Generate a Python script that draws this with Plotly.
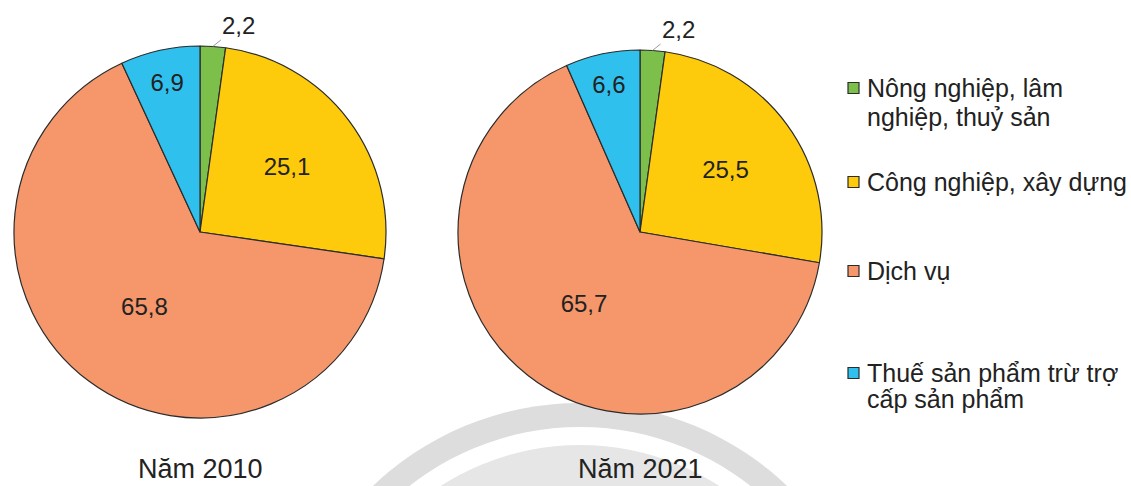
import math
import plotly.graph_objects as go

# GDP structure by sector (%)
sectors = [
    "Nông nghiệp, lâm nghiệp, thuỷ sản",
    "Công nghiệp, xây dựng",
    "Dịch vụ",
    "Thuế sản phẩm trừ trợ cấp sản phẩm",
]
legend_lines = [
    ["Nông nghiệp, lâm", "nghiệp, thuỷ sản"],
    ["Công nghiệp, xây dựng"],
    ["Dịch vụ"],
    ["Thuế sản phẩm trừ trợ", "cấp sản phẩm"],
]
years = ["Năm 2010", "Năm 2021"]
share_2010 = [2.2, 25.1, 65.8, 6.9]
share_2021 = [2.2, 25.5, 65.7, 6.6]

colors = ["#7cc04b", "#fdcb0b", "#f5976a", "#2fc0ee"]
edge = "#2b2b2b"
ink = "#222222"
FONT = "Liberation Sans, Arial, sans-serif"

W, H = 1131, 486


def fx(x):
    return x / W


def fy(y):
    return 1 - y / H


def fmt(v):
    return f"{v:.1f}".replace(".", ",")


# pie centre (px) and radius (px)
pies = [
    (years[0], share_2010, 200, 232, 186),
    (years[1], share_2021, 640, 232, 182),
]

fig = go.Figure()
annotations = []
shapes = []

# faint circular emblem in the background
emblem_cx, emblem_cy = 580, 703
for r, col in [(300, "#dddddd"), (276, "#ffffff"), (258, "#e6e6e6")]:
    shapes.append(dict(
        type="circle", xref="paper", yref="paper", layer="below",
        x0=fx(emblem_cx - r), x1=fx(emblem_cx + r),
        y0=fy(emblem_cy + r), y1=fy(emblem_cy - r),
        fillcolor=col, line=dict(width=0),
    ))

for name, values, cx, cy, r in pies:
    fig.add_trace(go.Pie(
        labels=sectors,
        values=values,
        text=[fmt(v) for v in values],
        textinfo="text",
        textposition=["none", "inside", "inside", "inside"],
        insidetextorientation="horizontal",
        textfont=dict(family=FONT, size=24, color=ink),
        marker=dict(colors=colors, line=dict(color=edge, width=1.2)),
        sort=False,
        direction="clockwise",
        rotation=0,
        showlegend=False,
        hoverinfo="label+value",
        domain=dict(x=[fx(cx - r), fx(cx + r)], y=[fy(cy + r), fy(cy - r)]),
    ))

    # small first slice: value placed above with a leader line
    total = sum(values)
    mid = values[0] / total * math.pi
    px_ = cx + r * math.sin(mid)
    py_ = cy - r * math.cos(mid)
    annotations.append(dict(
        x=fx(px_), y=fy(py_), xref="paper", yref="paper",
        text=fmt(values[0]), showarrow=True, arrowhead=0,
        arrowwidth=1, arrowcolor="#9a9a9a",
        ax=26, ay=-21, xanchor="center", yanchor="middle",
        font=dict(family=FONT, size=24, color=ink),
    ))

    # year caption
    annotations.append(dict(
        x=fx(cx), y=fy(469), xref="paper", yref="paper",
        text=name, showarrow=False, xanchor="center", yanchor="middle",
        font=dict(family=FONT, size=27, color=ink),
    ))

# legend
legend_rows = [[88, 117], [182], [271], [373, 399]]
for lines, rows, col in zip(legend_lines, legend_rows, colors):
    y0 = rows[0]
    shapes.append(dict(
        type="rect", xref="paper", yref="paper",
        x0=fx(848), x1=fx(859), y0=fy(y0 + 5.5), y1=fy(y0 - 5.5),
        fillcolor=col, line=dict(color=edge, width=1.2),
    ))
    for line, y in zip(lines, rows):
        annotations.append(dict(
            x=fx(865), y=fy(y), xref="paper", yref="paper",
            text=line, showarrow=False, xanchor="left", yanchor="middle",
            font=dict(family=FONT, size=25, color=ink),
        ))

fig.update_layout(
    width=W, height=H,
    margin=dict(l=0, r=0, t=0, b=0),
    paper_bgcolor="white",
    plot_bgcolor="white",
    shapes=shapes,
    annotations=annotations,
)

fig.write_html("out.html")
